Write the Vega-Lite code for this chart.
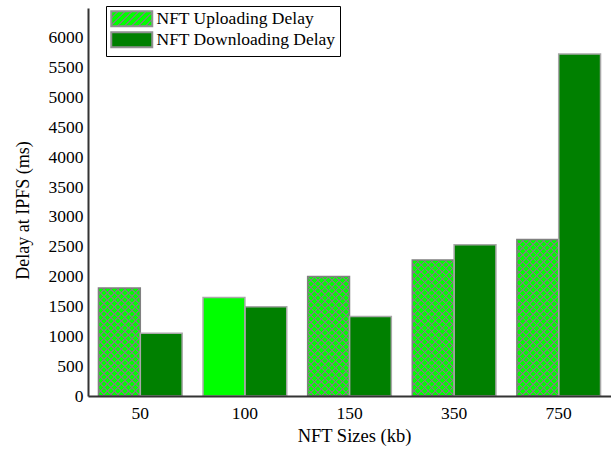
{
  "$schema": "https://vega.github.io/schema/vega-lite/v6.json",
  "autosize": "none",
  "width": 523,
  "height": 388,
  "padding": {"left": 88, "top": 8, "right": 0, "bottom": 54},
  "background": "white",
  "config": {"view": {"stroke": null}, "font": "Liberation Serif"},
  "params": [
    {"name": "hatchA", "value": [
      {"offset":0,"color":"gray"},{"offset":0.002,"color":"gray"},{"offset":0.006,"color":"lime"},
      {"offset":0.029,"color":"lime"},{"offset":0.033,"color":"gray"},{"offset":0.037,"color":"gray"},{"offset":0.041,"color":"lime"},
      {"offset":0.064,"color":"lime"},{"offset":0.068,"color":"gray"},{"offset":0.072,"color":"gray"},{"offset":0.076,"color":"lime"},
      {"offset":0.099,"color":"lime"},{"offset":0.103,"color":"gray"},{"offset":0.107,"color":"gray"},{"offset":0.111,"color":"lime"},
      {"offset":0.134,"color":"lime"},{"offset":0.138,"color":"gray"},{"offset":0.142,"color":"gray"},{"offset":0.146,"color":"lime"},
      {"offset":0.169,"color":"lime"},{"offset":0.173,"color":"gray"},{"offset":0.177,"color":"gray"},{"offset":0.181,"color":"lime"},
      {"offset":0.204,"color":"lime"},{"offset":0.208,"color":"gray"},{"offset":0.212,"color":"gray"},{"offset":0.216,"color":"lime"},
      {"offset":0.239,"color":"lime"},{"offset":0.243,"color":"gray"},{"offset":0.247,"color":"gray"},{"offset":0.251,"color":"lime"},
      {"offset":0.274,"color":"lime"},{"offset":0.278,"color":"gray"},{"offset":0.282,"color":"gray"},{"offset":0.286,"color":"lime"},
      {"offset":0.309,"color":"lime"},{"offset":0.313,"color":"gray"},{"offset":0.317,"color":"gray"},{"offset":0.321,"color":"lime"},
      {"offset":0.344,"color":"lime"},{"offset":0.348,"color":"gray"},{"offset":0.352,"color":"gray"},{"offset":0.356,"color":"lime"},
      {"offset":0.379,"color":"lime"},{"offset":0.383,"color":"gray"},{"offset":0.387,"color":"gray"},{"offset":0.391,"color":"lime"},
      {"offset":0.414,"color":"lime"},{"offset":0.418,"color":"gray"},{"offset":0.422,"color":"gray"},{"offset":0.426,"color":"lime"},
      {"offset":0.449,"color":"lime"},{"offset":0.453,"color":"gray"},{"offset":0.457,"color":"gray"},{"offset":0.461,"color":"lime"},
      {"offset":0.484,"color":"lime"},{"offset":0.488,"color":"gray"},{"offset":0.492,"color":"gray"},{"offset":0.496,"color":"lime"},
      {"offset":0.519,"color":"lime"},{"offset":0.523,"color":"gray"},{"offset":0.527,"color":"gray"},{"offset":0.531,"color":"lime"},
      {"offset":0.554,"color":"lime"},{"offset":0.558,"color":"gray"},{"offset":0.562,"color":"gray"},{"offset":0.566,"color":"lime"},
      {"offset":0.589,"color":"lime"},{"offset":0.593,"color":"gray"},{"offset":0.597,"color":"gray"},{"offset":0.601,"color":"lime"},
      {"offset":0.624,"color":"lime"},{"offset":0.628,"color":"gray"},{"offset":0.632,"color":"gray"},{"offset":0.636,"color":"lime"},
      {"offset":0.659,"color":"lime"},{"offset":0.663,"color":"gray"},{"offset":0.667,"color":"gray"},{"offset":0.671,"color":"lime"},
      {"offset":0.694,"color":"lime"},{"offset":0.698,"color":"gray"},{"offset":0.702,"color":"gray"},{"offset":0.706,"color":"lime"},
      {"offset":0.729,"color":"lime"},{"offset":0.733,"color":"gray"},{"offset":0.737,"color":"gray"},{"offset":0.741,"color":"lime"},
      {"offset":0.764,"color":"lime"},{"offset":0.768,"color":"gray"},{"offset":0.772,"color":"gray"},{"offset":0.776,"color":"lime"},
      {"offset":0.799,"color":"lime"},{"offset":0.803,"color":"gray"},{"offset":0.807,"color":"gray"},{"offset":0.811,"color":"lime"},
      {"offset":0.834,"color":"lime"},{"offset":0.838,"color":"gray"},{"offset":0.842,"color":"gray"},{"offset":0.846,"color":"lime"},
      {"offset":0.869,"color":"lime"},{"offset":0.873,"color":"gray"},{"offset":0.877,"color":"gray"},{"offset":0.881,"color":"lime"},
      {"offset":0.904,"color":"lime"},{"offset":0.908,"color":"gray"},{"offset":0.912,"color":"gray"},{"offset":0.916,"color":"lime"},
      {"offset":0.939,"color":"lime"},{"offset":0.943,"color":"gray"},{"offset":0.947,"color":"gray"},{"offset":0.951,"color":"lime"},
      {"offset":0.974,"color":"lime"},{"offset":0.978,"color":"gray"},{"offset":0.982,"color":"gray"},{"offset":0.986,"color":"lime"}
    ]},
    {"name": "hatchB", "value": [
      {"offset":0,"color":"gray"},{"offset":0.002,"color":"gray"},{"offset":0.006,"color":"rgba(128,128,128,0)"},
      {"offset":0.029,"color":"rgba(128,128,128,0)"},{"offset":0.033,"color":"gray"},{"offset":0.037,"color":"gray"},{"offset":0.041,"color":"rgba(128,128,128,0)"},
      {"offset":0.064,"color":"rgba(128,128,128,0)"},{"offset":0.068,"color":"gray"},{"offset":0.072,"color":"gray"},{"offset":0.076,"color":"rgba(128,128,128,0)"},
      {"offset":0.099,"color":"rgba(128,128,128,0)"},{"offset":0.103,"color":"gray"},{"offset":0.107,"color":"gray"},{"offset":0.111,"color":"rgba(128,128,128,0)"},
      {"offset":0.134,"color":"rgba(128,128,128,0)"},{"offset":0.138,"color":"gray"},{"offset":0.142,"color":"gray"},{"offset":0.146,"color":"rgba(128,128,128,0)"},
      {"offset":0.169,"color":"rgba(128,128,128,0)"},{"offset":0.173,"color":"gray"},{"offset":0.177,"color":"gray"},{"offset":0.181,"color":"rgba(128,128,128,0)"},
      {"offset":0.204,"color":"rgba(128,128,128,0)"},{"offset":0.208,"color":"gray"},{"offset":0.212,"color":"gray"},{"offset":0.216,"color":"rgba(128,128,128,0)"},
      {"offset":0.239,"color":"rgba(128,128,128,0)"},{"offset":0.243,"color":"gray"},{"offset":0.247,"color":"gray"},{"offset":0.251,"color":"rgba(128,128,128,0)"},
      {"offset":0.274,"color":"rgba(128,128,128,0)"},{"offset":0.278,"color":"gray"},{"offset":0.282,"color":"gray"},{"offset":0.286,"color":"rgba(128,128,128,0)"},
      {"offset":0.309,"color":"rgba(128,128,128,0)"},{"offset":0.313,"color":"gray"},{"offset":0.317,"color":"gray"},{"offset":0.321,"color":"rgba(128,128,128,0)"},
      {"offset":0.344,"color":"rgba(128,128,128,0)"},{"offset":0.348,"color":"gray"},{"offset":0.352,"color":"gray"},{"offset":0.356,"color":"rgba(128,128,128,0)"},
      {"offset":0.379,"color":"rgba(128,128,128,0)"},{"offset":0.383,"color":"gray"},{"offset":0.387,"color":"gray"},{"offset":0.391,"color":"rgba(128,128,128,0)"},
      {"offset":0.414,"color":"rgba(128,128,128,0)"},{"offset":0.418,"color":"gray"},{"offset":0.422,"color":"gray"},{"offset":0.426,"color":"rgba(128,128,128,0)"},
      {"offset":0.449,"color":"rgba(128,128,128,0)"},{"offset":0.453,"color":"gray"},{"offset":0.457,"color":"gray"},{"offset":0.461,"color":"rgba(128,128,128,0)"},
      {"offset":0.484,"color":"rgba(128,128,128,0)"},{"offset":0.488,"color":"gray"},{"offset":0.492,"color":"gray"},{"offset":0.496,"color":"rgba(128,128,128,0)"},
      {"offset":0.519,"color":"rgba(128,128,128,0)"},{"offset":0.523,"color":"gray"},{"offset":0.527,"color":"gray"},{"offset":0.531,"color":"rgba(128,128,128,0)"},
      {"offset":0.554,"color":"rgba(128,128,128,0)"},{"offset":0.558,"color":"gray"},{"offset":0.562,"color":"gray"},{"offset":0.566,"color":"rgba(128,128,128,0)"},
      {"offset":0.589,"color":"rgba(128,128,128,0)"},{"offset":0.593,"color":"gray"},{"offset":0.597,"color":"gray"},{"offset":0.601,"color":"rgba(128,128,128,0)"},
      {"offset":0.624,"color":"rgba(128,128,128,0)"},{"offset":0.628,"color":"gray"},{"offset":0.632,"color":"gray"},{"offset":0.636,"color":"rgba(128,128,128,0)"},
      {"offset":0.659,"color":"rgba(128,128,128,0)"},{"offset":0.663,"color":"gray"},{"offset":0.667,"color":"gray"},{"offset":0.671,"color":"rgba(128,128,128,0)"},
      {"offset":0.694,"color":"rgba(128,128,128,0)"},{"offset":0.698,"color":"gray"},{"offset":0.702,"color":"gray"},{"offset":0.706,"color":"rgba(128,128,128,0)"},
      {"offset":0.729,"color":"rgba(128,128,128,0)"},{"offset":0.733,"color":"gray"},{"offset":0.737,"color":"gray"},{"offset":0.741,"color":"rgba(128,128,128,0)"},
      {"offset":0.764,"color":"rgba(128,128,128,0)"},{"offset":0.768,"color":"gray"},{"offset":0.772,"color":"gray"},{"offset":0.776,"color":"rgba(128,128,128,0)"},
      {"offset":0.799,"color":"rgba(128,128,128,0)"},{"offset":0.803,"color":"gray"},{"offset":0.807,"color":"gray"},{"offset":0.811,"color":"rgba(128,128,128,0)"},
      {"offset":0.834,"color":"rgba(128,128,128,0)"},{"offset":0.838,"color":"gray"},{"offset":0.842,"color":"gray"},{"offset":0.846,"color":"rgba(128,128,128,0)"},
      {"offset":0.869,"color":"rgba(128,128,128,0)"},{"offset":0.873,"color":"gray"},{"offset":0.877,"color":"gray"},{"offset":0.881,"color":"rgba(128,128,128,0)"},
      {"offset":0.904,"color":"rgba(128,128,128,0)"},{"offset":0.908,"color":"gray"},{"offset":0.912,"color":"gray"},{"offset":0.916,"color":"rgba(128,128,128,0)"},
      {"offset":0.939,"color":"rgba(128,128,128,0)"},{"offset":0.943,"color":"gray"},{"offset":0.947,"color":"gray"},{"offset":0.951,"color":"rgba(128,128,128,0)"},
      {"offset":0.974,"color":"rgba(128,128,128,0)"},{"offset":0.978,"color":"gray"},{"offset":0.982,"color":"gray"},{"offset":0.986,"color":"rgba(128,128,128,0)"}
    ]}
  ],
  "data": {"values": [
    {"size": "50", "type": "NFT Uploading Delay", "value": 1810},
    {"size": "50", "type": "NFT Downloading Delay", "value": 1050},
    {"size": "100", "type": "NFT Uploading Delay", "value": 1650},
    {"size": "100", "type": "NFT Downloading Delay", "value": 1495},
    {"size": "150", "type": "NFT Uploading Delay", "value": 2000},
    {"size": "150", "type": "NFT Downloading Delay", "value": 1330},
    {"size": "350", "type": "NFT Uploading Delay", "value": 2280},
    {"size": "350", "type": "NFT Downloading Delay", "value": 2535},
    {"size": "750", "type": "NFT Uploading Delay", "value": 2620},
    {"size": "750", "type": "NFT Downloading Delay", "value": 5730}
  ]},
  "encoding": {
    "x": {
      "field": "size", "type": "nominal", "sort": ["50", "100", "150", "350", "750"],
      "scale": {"paddingInner": 0.2, "paddingOuter": 0.1},
      "axis": {
        "title": "NFT Sizes (kb)", "labelAngle": 0, "ticks": false, "grid": false,
        "domainColor": "#333333", "domainWidth": 2, "zindex": 1,
        "labelFont": "Liberation Serif", "labelFontSize": 17.5, "labelColor": "black", "labelPadding": 8,
        "titleFont": "Liberation Serif", "titleFontSize": 18.5, "titleFontWeight": "normal", "titleColor": "black", "titlePadding": 5,
        "titleX": 266
      }
    },
    "xOffset": {
      "field": "type", "type": "nominal",
      "sort": ["NFT Uploading Delay", "NFT Downloading Delay"],
      "scale": {"paddingInner": 0, "paddingOuter": 0}
    },
    "y": {
      "field": "value", "type": "quantitative",
      "scale": {"domain": [0, 6500], "nice": false},
      "axis": {
        "title": "Delay at IPFS (ms)", "format": "d",
        "values": [0, 500, 1000, 1500, 2000, 2500, 3000, 3500, 4000, 4500, 5000, 5500, 6000],
        "ticks": false, "grid": false, "domainColor": "#333333", "domainWidth": 2, "zindex": 1,
        "labelFont": "Liberation Serif", "labelFontSize": 17.5, "labelColor": "black", "labelPadding": 5,
        "titleFont": "Liberation Serif", "titleFontSize": 18, "titleFontWeight": "normal", "titleColor": "black", "titlePadding": 16,
        "titleY": 202
      }
    }
  },
  "layer": [
    {
      "mark": {"type": "bar", "strokeWidth": 0},
      "encoding": {
        "fill": {
          "field": "type", "type": "nominal",
          "scale": {
            "domain": ["NFT Uploading Delay", "NFT Downloading Delay"],
            "range": [{"expr": "{gradient:'linear',x1:0,y1:0,x2:4.302,y2:1.574,stops:hatchA}"}, "#008000"]
          },
          "condition": [
            {
              "test": "datum.type === 'NFT Uploading Delay' && datum.size !== '100'",
              "value": {"expr": "{gradient:'linear',x1:0,y1:0,x2:200*bandwidth('xOffset')/(pow(bandwidth('xOffset'),2)+pow(scale('y',0)-scale('y',datum.value),2)),y2:200*(scale('y',0)-scale('y',datum.value))/(pow(bandwidth('xOffset'),2)+pow(scale('y',0)-scale('y',datum.value),2)),stops:hatchA}"}
            },
            {"test": "datum.type === 'NFT Uploading Delay'", "value": "lime"}
          ],
          "legend": {
            "title": null, "orient": "none", "legendX": 18, "legendY": -2,
            "padding": 4, "strokeColor": "black", "fillColor": "white", "cornerRadius": 0,
            "symbolType": "M-1,-1H4.467V1H-1Z", "symbolSize": 225,
            "symbolStrokeColor": "#909090", "symbolStrokeWidth": 2, "symbolOpacity": 1,
            "labelOffset": 29, "labelFont": "Liberation Serif", "labelFontSize": 17.5, "labelColor": "black",
            "labelLimit": 400, "rowPadding": -4.5
          }
        }
      }
    },
    {
      "mark": {"type": "bar", "strokeWidth": 1.5},
      "encoding": {
        "fill": {
          "condition": {
            "test": "datum.type === 'NFT Uploading Delay' && datum.size !== '100'",
            "value": {"expr": "{gradient:'linear',x1:0,y1:1,x2:200*bandwidth('xOffset')/(pow(bandwidth('xOffset'),2)+pow(scale('y',0)-scale('y',datum.value),2)),y2:1-200*(scale('y',0)-scale('y',datum.value))/(pow(bandwidth('xOffset'),2)+pow(scale('y',0)-scale('y',datum.value),2)),stops:hatchB}"}
          },
          "value": "transparent"
        },
        "stroke": {
          "condition": {"test": "datum.type === 'NFT Uploading Delay' && datum.size !== '100'", "value": "#808080"},
          "value": "#a8a8a8"
        }
      }
    }
  ]
}
